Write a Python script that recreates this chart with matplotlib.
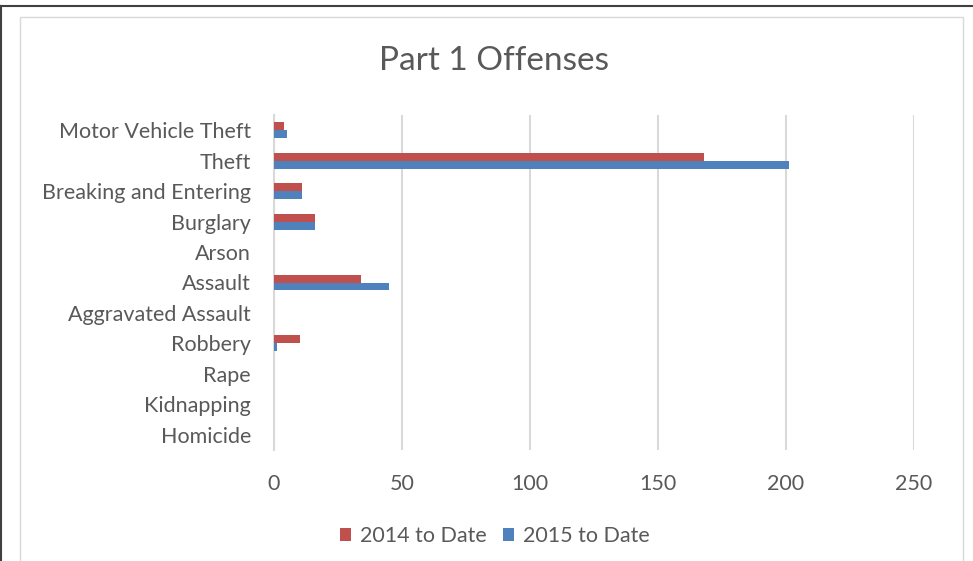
import matplotlib.pyplot as plt
import matplotlib
import numpy as np

matplotlib.rcParams['font.family'] = ['Lato', 'DejaVu Sans']

categories = ['Motor Vehicle Theft', 'Theft', 'Breaking and Entering', 'Burglary',
              'Arson', 'Assault', 'Aggravated Assault', 'Robbery', 'Rape',
              'Kidnapping', 'Homicide']
values_2014 = [4, 168, 11, 16, 0, 34, 0, 10, 0, 0, 0]
values_2015 = [5, 201, 11, 16, 0, 45, 0, 1, 0, 0, 0]
x_ticks = [0, 50, 100, 150, 200, 250]

text_color = '#595959'
grid_color = '#D9D9D9'

fig = plt.figure(figsize=(9.73, 5.61), dpi=100)

# page border and chart border
fig.add_artist(plt.Line2D([0, 1], [1 - 5.5 / 561, 1 - 5.5 / 561], color='#404040', lw=1.5))
fig.add_artist(plt.Line2D([0.5 / 973, 0.5 / 973], [0, 1 - 5.5 / 561], color='#404040', lw=1.5))
fig.add_artist(plt.Rectangle((19.5 / 973, -0.01), (963 - 19.5) / 973, 1 - 16.5 / 561 + 0.01,
                             fill=False, ec=grid_color, lw=1))

ax = fig.add_axes([274 / 973, 1 - 450 / 561, 640 / 973, 335 / 561])

y = np.arange(len(categories))
h = 0.26
ax.barh(y - h / 2, values_2014, height=h, color='#C0504D', label='2014 to Date', zorder=3)
ax.barh(y + h / 2, values_2015, height=h, color='#4F81BD', label='2015 to Date', zorder=3)

ax.set_ylim(len(categories) - 0.5, -0.5)
ax.set_xlim(0, 250)
ax.set_xticks(x_ticks)
ax.set_yticks(y)
ax.set_yticklabels(categories)
ax.tick_params(axis='both', length=0, labelsize=15.5, labelcolor=text_color)
ax.tick_params(axis='x', pad=17)
ax.tick_params(axis='y', pad=16.5)
ax.xaxis.grid(True, color=grid_color, lw=1.5, zorder=0)
for s in ['top', 'right', 'bottom']:
    ax.spines[s].set_visible(False)
ax.spines['left'].set_color(grid_color)
ax.spines['left'].set_linewidth(1.5)

fig.text(494 / 973, 1 - 61 / 561, 'Part 1 Offenses', ha='center', va='center',
         fontsize=24, color=text_color)

fig.legend(loc='center', bbox_to_anchor=(495 / 973, 1 - 536 / 561), ncol=2, frameon=False,
           fontsize=15.5, labelcolor=text_color, handlelength=0.52, handleheight=0.52,
           columnspacing=0.75, handletextpad=0.42)

fig.savefig('out.png')
